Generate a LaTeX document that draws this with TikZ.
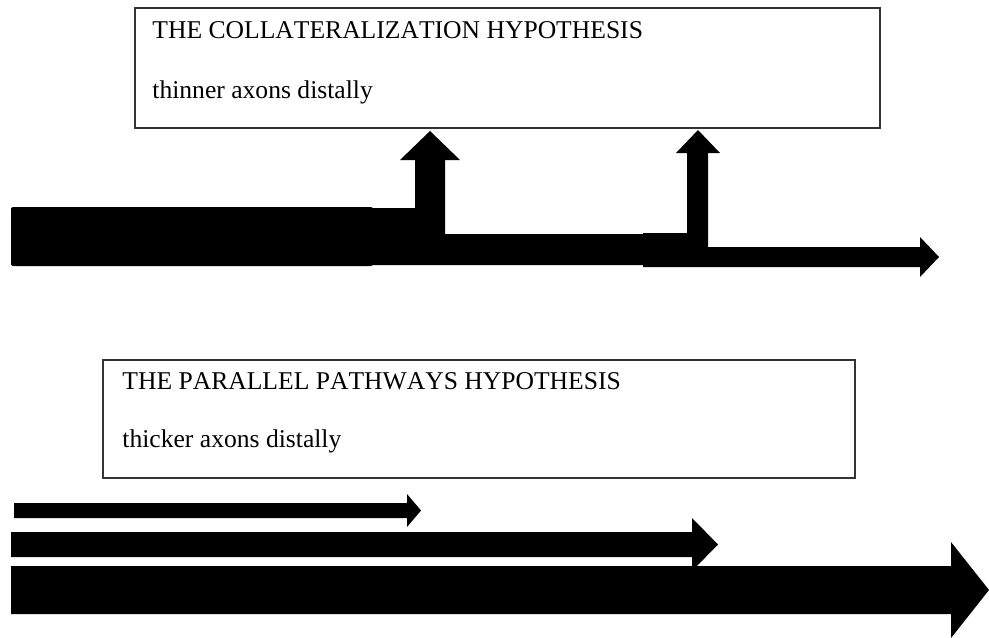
\documentclass[tikz,border=0pt]{standalone}
\usepackage{fontspec}
\setmainfont[Kerning=Off]{Liberation Serif}

\begin{document}
\begin{tikzpicture}[x=0.5pt,y=-0.5pt,
  hypbox/.style={draw=black!80,line width=0.6pt},
  hyptext/.style={anchor=base west,inner sep=0pt,font=\fontsize{12.8}{15}\selectfont},
  axon/.style={fill=black}]
\useasboundingbox (0,0) rectangle (989,637);

% collateralization
\draw[hypbox] (135,8) rectangle (880,128);
\node[hyptext] (colltitle) at (152,38) {THE COLLATERALIZATION HYPOTHESIS};
\node[hyptext] (colltext) at (152,98) {thinner axons distally};

\fill[axon,rounded corners=1pt] (11,207) rectangle (373,266);
\fill[axon] (372,208)--(415,208)--(415,160)--(400,160)--(430,131)--(460,160)
  --(445,160)--(445,234)--(643,234)--(643,233)--(687,233)--(687,153)--(676,153)
  --(698,130)--(720,153)--(708,153)--(708,247)--(920,247)--(920,237)--(939,257)
  --(920,277)--(920,267)--(643,267)--(643,265)--(372,265)--cycle;

% parallel pathways
\draw[hypbox] (103,360) rectangle (855,478);
\node[hyptext] (paratitle) at (122,389) {THE PARALLEL PATHWAYS HYPOTHESIS};
\node[hyptext] (paratext) at (122,447) {thicker axons distally};

\fill[axon] (14,503)--(407,503)--(407,494)--(421,510.5)--(407,527)--(407,518)--(14,518)--cycle;
\fill[axon] (11,532)--(692,532)--(692,518)--(718,544.5)--(692,571)--(692,557)--(11,557)--cycle;
\fill[axon] (11,566)--(951,566)--(951,542)--(989,590)--(951,638)--(951,614)--(11,614)--cycle;

\end{tikzpicture}
\end{document}
